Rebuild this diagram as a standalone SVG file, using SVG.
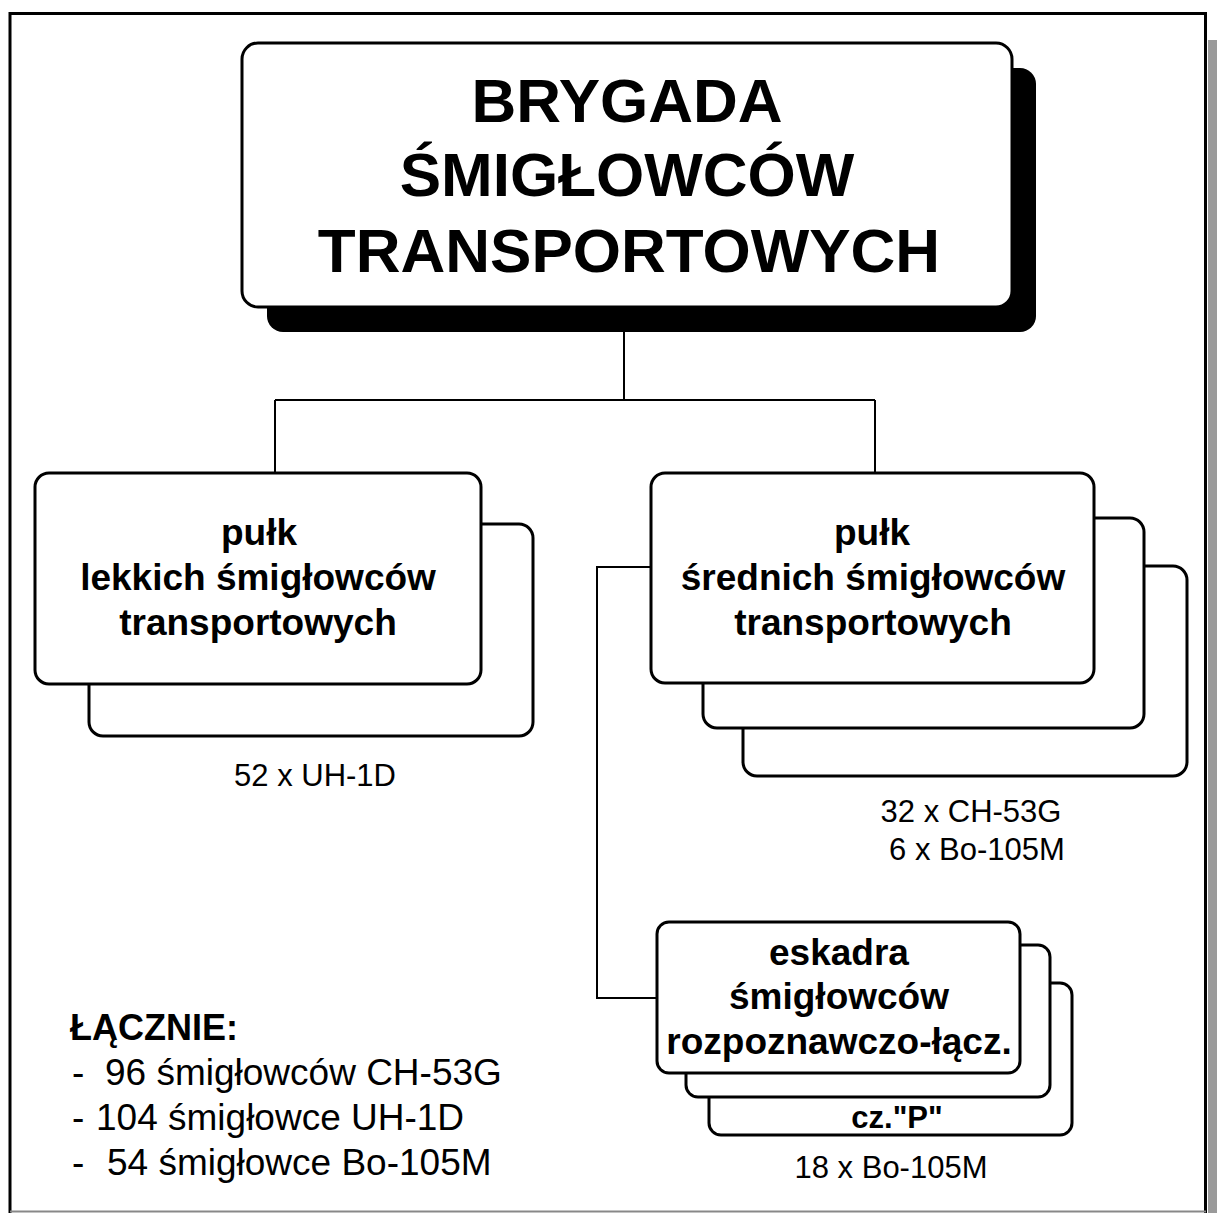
<svg xmlns="http://www.w3.org/2000/svg" width="1217" height="1213" viewBox="0 0 1217 1213">
<style>
.box{fill:#fff;stroke:#000;stroke-width:3}
.conn{fill:none;stroke:#000;stroke-width:2}
text{font-family:"Liberation Sans",Arial,sans-serif;fill:#000}
.title{font-size:62px;font-weight:bold;text-anchor:middle}
.lbl{font-size:37px;font-weight:bold;text-anchor:middle}
.note{font-size:31px;text-anchor:middle}
.sum{font-size:37px}
</style>
<rect x="0" y="0" width="1217" height="1213" fill="#fff"/>
<g id="frame">
<rect x="1208" y="40" width="9" height="1173" fill="#9a9a9a"/>
<path d="M10,1213 V13.5 H1205.5 V1213" fill="none" stroke="#000" stroke-width="3"/>
<line x1="10" y1="1211.5" x2="1206" y2="1211.5" stroke="#888" stroke-width="2"/>
</g>
<g id="connectors">
<path class="conn" d="M624,332 V400 M275,400 H875 M275,400 V473 M875,400 V473"/>
<path class="conn" d="M651,567 H597 V998 H657"/>
</g>
<g id="brygada">
<rect x="267" y="68" width="769" height="264" rx="16" fill="#000"/>
<rect class="box" x="242" y="43" width="770" height="264" rx="16"/>
<text class="title" x="627" y="122">BRYGADA</text>
<text class="title" x="627" y="196">ŚMIGŁOWCÓW</text>
<text class="title" x="629" y="272">TRANSPORTOWYCH</text>
</g>
<g id="pulk-lekkich">
<rect class="box" x="89" y="524" width="444" height="212" rx="14"/>
<rect class="box" x="35" y="473" width="446" height="211" rx="14"/>
<text class="lbl" x="259" y="545">pułk</text>
<text class="lbl" x="258" y="590">lekkich śmigłowców</text>
<text class="lbl" x="258" y="635">transportowych</text>
<text class="note" x="315" y="786">52 x UH-1D</text>
</g>
<g id="pulk-srednich">
<rect class="box" x="743" y="566" width="444" height="210" rx="14"/>
<rect class="box" x="703" y="518" width="441" height="210" rx="14"/>
<rect class="box" x="651" y="473" width="443" height="210" rx="14"/>
<text class="lbl" x="872" y="545">pułk</text>
<text class="lbl" x="873" y="590">średnich śmigłowców</text>
<text class="lbl" x="873" y="635">transportowych</text>
<text class="note" x="971" y="822">32 x CH-53G</text>
<text class="note" x="977" y="860">6 x Bo-105M</text>
</g>
<g id="eskadra">
<rect class="box" x="709" y="983" width="363" height="152" rx="12"/>
<rect class="box" x="686" y="945" width="364" height="152" rx="12"/>
<rect class="box" x="657" y="922" width="363" height="151" rx="12"/>
<text class="lbl" x="839" y="965">eskadra</text>
<text class="lbl" x="839" y="1009">śmigłowców</text>
<text class="lbl" x="839" y="1054">rozpoznawczo-łącz.</text>
<text x="897" y="1128" style="font-size:31px;font-weight:bold;text-anchor:middle">cz."P"</text>
<text class="note" x="891" y="1178">18 x Bo-105M</text>
</g>
<g id="lacznie">
<text x="70" y="1040" style="font-size:36px;font-weight:bold">ŁĄCZNIE:</text>
<text class="sum" y="1085"><tspan x="72">-</tspan><tspan x="105">96 śmigłowców CH-53G</tspan></text>
<text class="sum" y="1130"><tspan x="72">-</tspan><tspan x="96">104 śmigłowce UH-1D</tspan></text>
<text class="sum" y="1175"><tspan x="72">-</tspan><tspan x="107">54 śmigłowce Bo-105M</tspan></text>
</g>
</svg>
